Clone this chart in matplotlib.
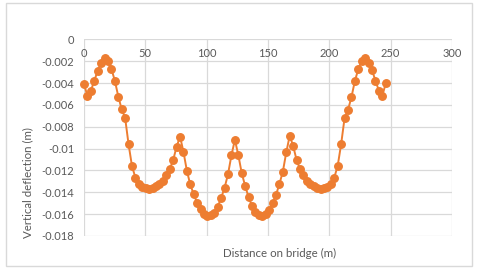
import matplotlib.pyplot as plt
from matplotlib.patches import Rectangle

# distance along the bridge (m)
distance = [
    0.0, 2.8, 5.6, 8.4, 11.2, 14.0, 16.8, 19.6, 22.4, 25.2,
    28.0, 30.7, 33.5, 36.3, 39.1, 41.9, 44.7, 47.5, 50.3, 53.1,
    55.9, 58.7, 61.5, 64.3, 67.1, 69.9, 72.7, 75.5, 78.3, 81.1,
    83.9, 86.6, 89.4, 92.2, 95.0, 97.8, 100.6, 103.4, 106.2, 109.0,
    111.8, 114.6, 117.4, 120.2, 123.0, 125.8, 128.6, 131.4, 134.2, 137.0,
    139.8, 142.5, 145.3, 148.1, 150.9, 153.7, 156.5, 159.3, 162.1, 164.9,
    167.7, 170.5, 173.3, 176.1, 178.9, 181.7, 184.5, 187.3, 190.1, 192.9,
    195.7, 198.4, 201.2, 204.0, 206.8, 209.6, 212.4, 215.2, 218.0, 220.8,
    223.6, 226.4, 229.2, 232.0, 234.8, 237.6, 240.4, 243.2, 246.0,
]

# vertical deflection (m)
deflection = [
    -0.00412, -0.00516, -0.00470, -0.00379, -0.00287, -0.00220, -0.00174, -0.00196, -0.00272, -0.00382,
    -0.00525, -0.00640, -0.00717, -0.00958, -0.01159, -0.01266, -0.01321, -0.01349, -0.01363, -0.01367,
    -0.01358, -0.01342, -0.01321, -0.01296, -0.01244, -0.01189, -0.01104, -0.00983, -0.00890, -0.01031,
    -0.01205, -0.01327, -0.01418, -0.01495, -0.01555, -0.01601, -0.01617, -0.01607, -0.01586, -0.01532,
    -0.01452, -0.01358, -0.01235, -0.01061, -0.00920, -0.01059, -0.01226, -0.01342, -0.01446, -0.01525,
    -0.01577, -0.01607, -0.01614, -0.01598, -0.01562, -0.01500, -0.01425, -0.01324, -0.01211, -0.01034,
    -0.00882, -0.00976, -0.01104, -0.01189, -0.01244, -0.01296, -0.01321, -0.01342, -0.01358, -0.01367,
    -0.01363, -0.01349, -0.01321, -0.01266, -0.01159, -0.00961, -0.00723, -0.00647, -0.00531, -0.00382,
    -0.00274, -0.00196, -0.00174, -0.00214, -0.00281, -0.00379, -0.00470, -0.00516, -0.00403,
]

x_ticks = [0, 50, 100, 150, 200, 250, 300]
y_ticks = [0, -0.002, -0.004, -0.006, -0.008, -0.01, -0.012, -0.014, -0.016, -0.018]
y_tick_labels = ["0", "-0.002", "-0.004", "-0.006", "-0.008", "-0.01",
                 "-0.012", "-0.014", "-0.016", "-0.018"]

orange = "#ED7D31"
grid = "#D9D9D9"
text_col = "#595959"

plt.rcParams["font.family"] = ["Lato", "DejaVu Sans"]

fig = plt.figure(figsize=(4.8, 2.72), dpi=100)
ax = fig.add_axes([84 / 480, 1 - 236 / 272, 368 / 480, 196.7 / 272])

ax.plot(distance, deflection, color=orange, lw=1.4, marker="o", markersize=5.4,
        clip_on=False, zorder=3)

ax.set_xlim(0, 300)
ax.set_ylim(-0.018, 0)
ax.set_xticks(x_ticks)
ax.set_yticks(y_ticks)
ax.set_yticklabels(y_tick_labels)
ax.grid(True, color=grid, lw=0.9)
ax.set_axisbelow(True)
for s in ax.spines.values():
    s.set_visible(False)

ax.tick_params(axis="x", length=0, labelbottom=False, labeltop=True, pad=-14.5,
               labelsize=8, labelcolor=text_col)
ax.tick_params(axis="y", length=0, pad=7, labelsize=8, labelcolor=text_col)

fig.text(280 / 480, 1 - 253.5 / 272, "Distance on bridge (m)", ha="center",
         va="center", fontsize=8.3, color=text_col)
fig.text(28 / 480, 1 - 182.5 / 272, "Vertical deflection (m)", ha="center",
         va="center", rotation=90, fontsize=8.3, color=text_col)

fig.patches.append(Rectangle((5.5 / 480, 1 - 266 / 272), 466.5 / 480, 263 / 272,
                             transform=fig.transFigure, fill=False,
                             edgecolor=grid, lw=1))

fig.savefig("out.png", dpi=100)
